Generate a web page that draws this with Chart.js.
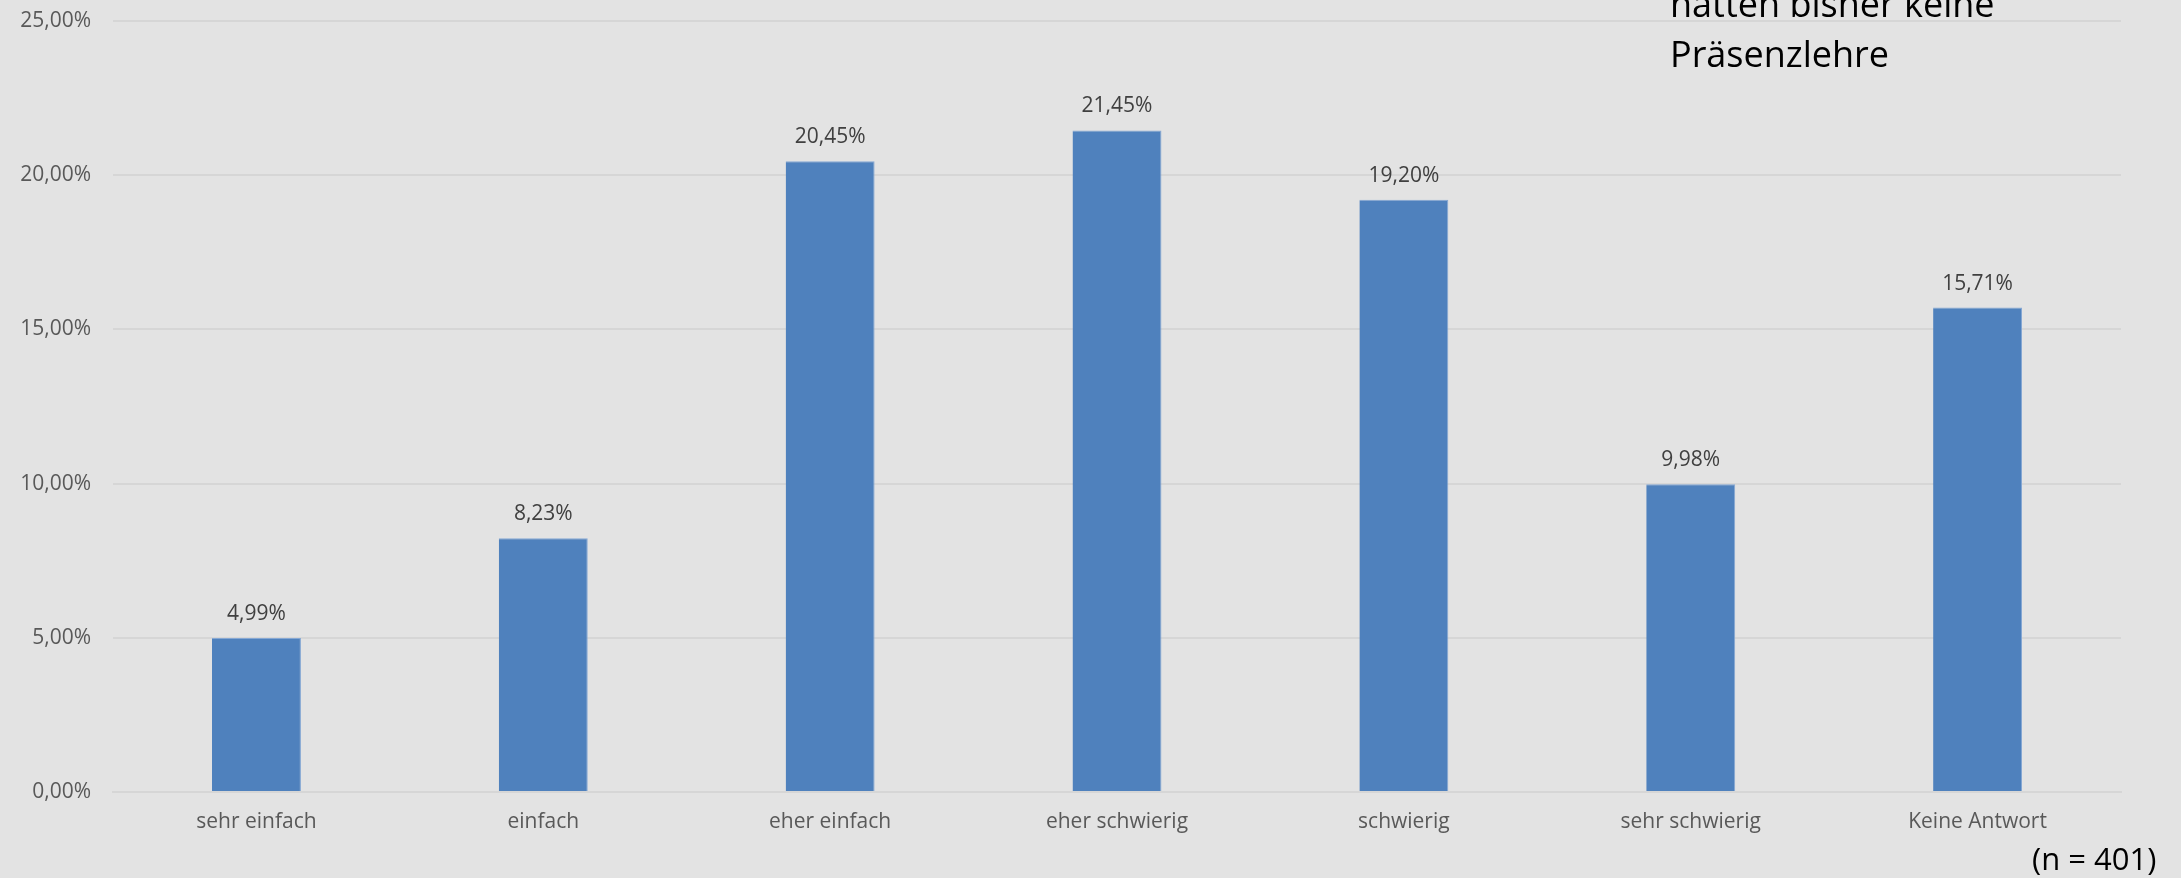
<!DOCTYPE html>
<html>
<head>
<meta charset="utf-8">
<script src="https://cdn.jsdelivr.net/npm/chart.js@4"></script>
<style>
  html, body { margin: 0; padding: 0; background: #e3e3e3; }
  #wrap { position: relative; width: 2181px; height: 878px; overflow: hidden; }
  .note { position: absolute; font-family: "Open Sans", sans-serif; color: #000; white-space: nowrap; }
  #hinweis { left: 1670px; top: -21px; font-size: 36px; line-height: 50px; }
  #anzahl { left: 2032px; top: 840px; font-size: 31px; line-height: 36px; }
</style>
</head>
<body>
<div id="wrap">
  <canvas id="myChart" width="2181" height="878"></canvas>
  <div id="hinweis" class="note">hatten bisher keine<br>Präsenzlehre</div>
  <div id="anzahl" class="note">(n = 401)</div>
</div>
<script>
const kategorien = ["sehr einfach", "einfach", "eher einfach", "eher schwierig", "schwierig", "sehr schwierig", "Keine Antwort"];
const anteile = [4.99, 8.23, 20.45, 21.45, 19.20, 9.98, 15.71];
const yTicks = [0, 5, 10, 15, 20, 25];

const formatProzent = (v) => v.toFixed(2).replace(".", ",") + "%";

// Werte über den Balken schreiben
const wertLabels = {
  id: "wertLabels",
  afterDatasetsDraw(chart) {
    const ctx = chart.ctx;
    const meta = chart.getDatasetMeta(0);
    ctx.save();
    ctx.font = '21px "Open Sans"';
    ctx.fillStyle = "#404040";
    ctx.textAlign = "center";
    ctx.textBaseline = "alphabetic";
    meta.data.forEach((bar, i) => {
      ctx.fillText(formatProzent(anteile[i]), bar.x, bar.y - 18);
    });
    ctx.restore();
  }
};

const chartDOM = document.querySelector("#myChart");
const myChart = new Chart(chartDOM, {
  type: "bar",
  data: {
    labels: kategorien,
    datasets: [{
      data: anteile,
      backgroundColor: "#4f81bd",
      borderColor: "#86a8d4",
      borderWidth: { top: 1, left: 0, right: 1, bottom: 0 },
      barPercentage: 0.62,
      categoryPercentage: 0.5
    }]
  },
  options: {
    responsive: false,
    animation: false,
    layout: { padding: { top: 21, right: 60, left: 0, bottom: 0 } },
    plugins: {
      legend: { display: false },
      tooltip: { enabled: false }
    },
    scales: {
      x: {
        grid: { display: false, drawTicks: false },
        border: { display: true, color: "#d6d6d6", width: 2 },
        ticks: {
          color: "#595959",
          font: { family: "Open Sans", size: 21 },
          padding: 17,
          maxRotation: 0
        },
        afterFit(scale) {
          scale.height = 86;
          scale.paddingLeft = 0;
          scale.paddingRight = 0;
        }
      },
      y: {
        min: 0,
        max: 25,
        afterBuildTicks(scale) { scale.ticks = yTicks.map(v => ({ value: v })); },
        grid: { color: "#d6d6d6", lineWidth: 2, drawTicks: false },
        border: { display: false },
        ticks: {
          color: "#595959",
          font: { family: "Open Sans", size: 21 },
          padding: 22,
          callback: (v) => formatProzent(v)
        },
        afterFit(scale) {
          scale.width = 113;
          scale.paddingTop = 0;
          scale.paddingBottom = 0;
        }
      }
    }
  },
  plugins: [wertLabels]
});
</script>
</body>
</html>
